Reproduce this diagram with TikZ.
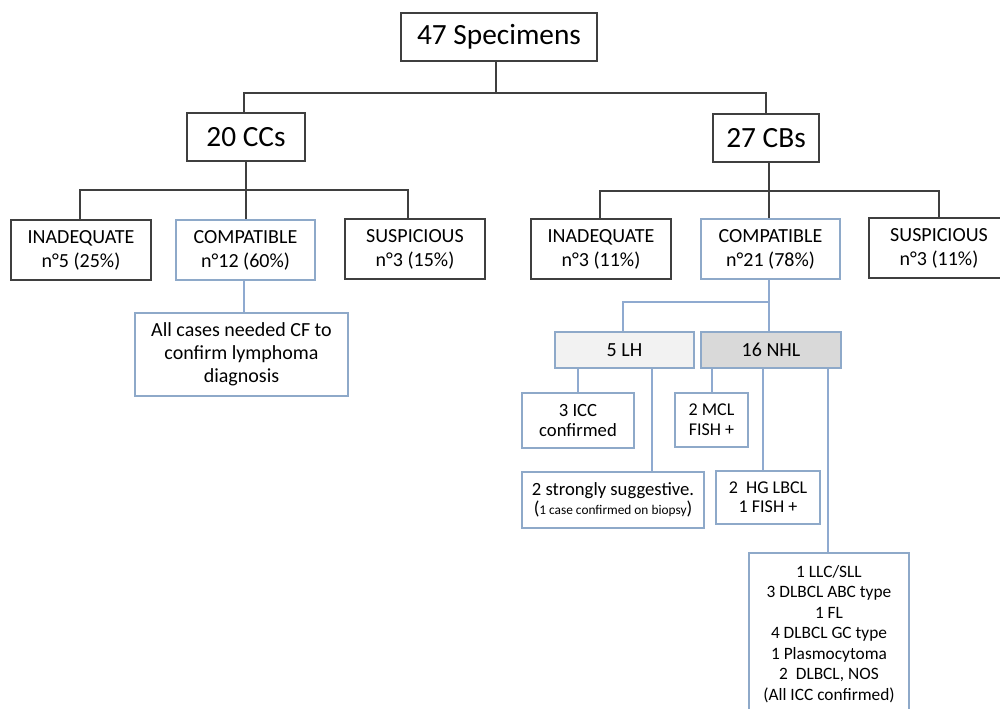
\documentclass[tikz,border=0pt]{standalone}
\usepackage{fontspec}
\setmainfont{Carlito}
\newlength\px
\setlength\px{0.75pt}
\definecolor{boxdark}{HTML}{3F3F3F}
\definecolor{boxblue}{HTML}{8EA9C9}
\definecolor{lineblue}{HTML}{8FAAD0}
\definecolor{lhfill}{HTML}{F2F2F2}
\definecolor{nhlfill}{HTML}{D9D9D9}
\tikzset{
  bx/.style={draw=boxdark, line width=1.2pt, rectangle, inner sep=0pt, align=center, font=\fontsize{15}{18}\selectfont},
  bigbx/.style={bx, font=\fontsize{22}{24}\selectfont},
  bbx/.style={draw=boxblue, line width=1.2pt, rectangle, inner sep=0pt, align=center, font=\fontsize{15}{18}\selectfont},
  dk/.style={draw=boxdark, line width=1.2pt},
  bl/.style={draw=lineblue, line width=1.2pt},
}
\begin{document}
\begin{tikzpicture}[x=0.75pt, y=-0.75pt]
\useasboundingbox (0,0) rectangle (1000,709);
\clip (0,0) rectangle (1000,709);
% top
\node[bigbx, minimum width=196\px, minimum height=48\px] (spec) at (499,37) {47 Specimens};
\node[bigbx, minimum width=118\px, minimum height=48\px] (cc) at (246,137) {20 CCs};
\node[bigbx, minimum width=106\px, minimum height=48\px] (cb) at (766,138) {27 CBs};
\coordinate (j0) at (496,93);
\draw[dk] (spec.south -| j0) -- (j0);
\draw[dk] (cc.north -| 244,0) |- (j0) -| (cb.north);
% CC row
\node[bx, minimum width=140\px, minimum height=60\px] (ina1) at (81,250) {INADEQUATE\\n°5 (25\%)};
\node[bbx, minimum width=139\px, minimum height=60\px] (com1) at (245.5,250) {COMPATIBLE\\n°12 (60\%)};
\node[bx, minimum width=140\px, minimum height=60\px] (sus1) at (415,249) {SUSPICIOUS\\n°3 (15\%)};
\coordinate (j1L) at (80,190);
\coordinate (j1M) at (246,190);
\coordinate (j1R) at (408,190);
\draw[dk] (cc.south -| j1M) -- (j1M);
\draw[dk] (j1L |- ina1.north) -- (j1L) -- (j1R) -- (j1R |- sus1.north);
\draw[dk] (j1M) -- (com1.north -| j1M);
% all cases
\node[bbx, minimum width=213\px, minimum height=83\px, font=\fontsize{15}{17.3}\selectfont] (allc) at (241.5,354.5) {All cases needed CF to\\confirm lymphoma\\diagnosis};
\coordinate (jc) at (244,300);
\draw[bl] (com1.south -| jc) -- (allc.north -| jc);
% CB row
\node[bx, minimum width=140\px, minimum height=60\px] (ina2) at (601,249) {INADEQUATE\\n°3 (11\%)};
\node[bbx, minimum width=139\px, minimum height=60\px] (com2) at (770.5,249) {COMPATIBLE\\n°21 (78\%)};
\node[bx, minimum width=140\px, minimum height=60\px] (sus2) at (939,248) {SUSPICIOUS\\n°3 (11\%)};
\coordinate (j2L) at (600,191);
\coordinate (j2M) at (769,191);
\coordinate (j2R) at (939,191);
\draw[dk] (cb.south -| j2M) -- (j2M);
\draw[dk] (j2L |- ina2.north) -- (j2L) -- (j2R) -- (sus2.north);
\draw[dk] (j2M) -- (com2.north -| j2M);
% LH / NHL
\node[bbx, fill=lhfill, minimum width=139\px, minimum height=36\px] (lh) at (624.5,350) {5 LH};
\node[bbx, fill=nhlfill, minimum width=140\px, minimum height=36\px] (nhl) at (771,350) {16 NHL};
\coordinate (j3L) at (623,302);
\coordinate (j3R) at (769,302);
\draw[bl] (com2.south -| j3R) -- (j3R) -- (j3L) -- (lh.north -| j3L);
\draw[bl] (j3R) -- (nhl.north -| j3R);
% LH children
\node[bbx, minimum width=112\px, minimum height=55\px, font=\fontsize{14}{15.4}\selectfont] (icc) at (578,420.5) {3 ICC\\confirmed};
\node[bbx, minimum width=182\px, minimum height=56\px, font=\fontsize{14}{14.5}\selectfont] (strong) at (613,500) {2 strongly suggestive.\\({\fontsize{10}{10}\selectfont 1 case confirmed on biopsy})};
\draw[bl] (lh.south -| icc.north) -- (icc.north);
\draw[bl] (lh.south -| 652,0) -- (strong.north -| 652,0);
% NHL children
\node[bbx, minimum width=73\px, minimum height=54\px, font=\fontsize{13.5}{15}\selectfont] (mcl) at (711.5,420) {2 MCL\\FISH +};
\node[bbx, minimum width=104\px, minimum height=53\px, font=\fontsize{13.5}{14.5}\selectfont] (hg) at (768,497.5) {2~~HG LBCL\\1 FISH +};
\node[bbx, minimum width=160\px, minimum height=162\px, font=\fontsize{13}{15.4}\selectfont] (big) at (829,634) {1 LLC/SLL\\3 DLBCL ABC type\\1 FL\\4 DLBCL GC type\\1 Plasmocytoma\\2~~DLBCL, NOS\\(All ICC confirmed)};
\draw[bl] (nhl.south -| 712,0) -- (mcl.north -| 712,0);
\draw[bl] (nhl.south -| 763,0) -- (hg.north -| 763,0);
\draw[bl] (nhl.south -| 828,0) -- (big.north -| 828,0);
\end{tikzpicture}
\end{document}
